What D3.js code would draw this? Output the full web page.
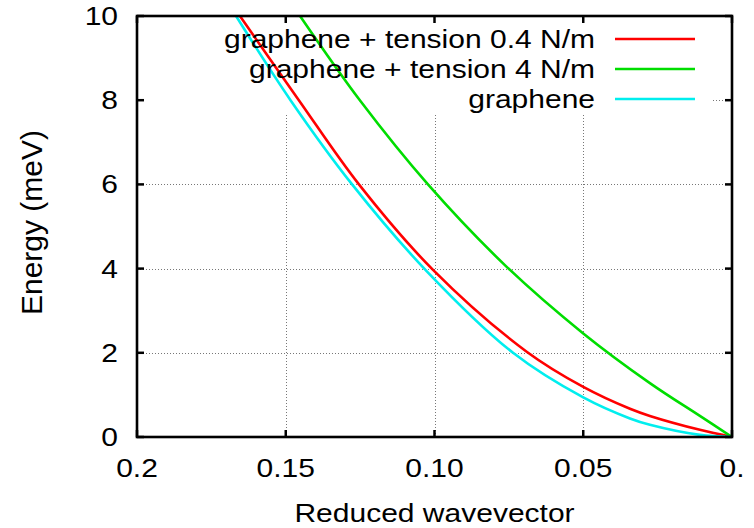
<!DOCTYPE html>
<html>
<head>
<meta charset="utf-8">
<script src="https://cdn.jsdelivr.net/npm/d3@7"></script>
<style>
  html, body { margin: 0; padding: 0; background: #fff; }
  svg { display: block; font-family: "Liberation Sans", Arial, sans-serif; }
</style>
</head>
<body>
<svg id="chart" width="754" height="528"></svg>
<script>
// Flexural phonon dispersion near Gamma: energy vs reduced wavevector
const xTicks = [0.2, 0.15, 0.10, 0.05, 0.0];
const xTickLabels = ["0.2", "0.15", "0.10", "0.05", "0."];
const yTicks = [0, 2, 4, 6, 8, 10];
const yTickLabels = ["0", "2", "4", "6", "8", "10"];

const seriesNames = ["graphene + tension 0.4 N/m", "graphene + tension 4 N/m", "graphene"];
const seriesColors = ["#ff0000", "#00dd00", "#00eeee"];

// graphene + tension 0.4 N/m
const qTension04 = [0, 0.0108, 0.0276, 0.0343, 0.05, 0.0689, 0.1005, 0.1254, 0.1456, 0.1654];
const eTension04 = [0, 0.17, 0.5, 0.67, 1.19, 2.02, 3.97, 6.0, 8.0, 10.0];
// graphene + tension 4 N/m
const qTension4 = [0, 0.0108, 0.0276, 0.05, 0.076, 0.1022, 0.1249, 0.1452];
const eTension4 = [0, 0.5, 1.28, 2.46, 4.06, 6.0, 7.98, 10.0];
// bare graphene
const qGraphene = [0, 0.0108, 0.0276, 0.0343, 0.05, 0.0736, 0.1025, 0.1277, 0.1484, 0.1667];
const eGraphene = [0, 0.05, 0.29, 0.44, 0.94, 2.0, 3.93, 6.0, 8.0, 10.0];

const seriesQ = [qTension04, qTension4, qGraphene];
const seriesE = [eTension04, eTension4, eGraphene];

const svg = d3.select("#chart");
const pLeft = 137, pRight = 732, pTop = 16, pBottom = 437;

const x = d3.scaleLinear().domain([0.2, 0.0]).range([pLeft, pRight]);
const y = d3.scaleLinear().domain([0, 10]).range([pBottom, pTop]);

// grid
const grid = svg.append("g").attr("stroke", "#777").attr("stroke-width", 1)
  .attr("stroke-dasharray", "1,2");
grid.selectAll("line.gx").data(xTicks.slice(1, -1)).join("line")
  .attr("x1", d => Math.round(x(d)) + 0.5).attr("x2", d => Math.round(x(d)) + 0.5)
  .attr("y1", pTop).attr("y2", pBottom);
grid.selectAll("line.gy").data(yTicks.slice(1, -1)).join("line")
  .attr("y1", d => Math.round(y(d)) + 0.5).attr("y2", d => Math.round(y(d)) + 0.5)
  .attr("x1", pLeft).attr("x2", pRight);

// opaque key background
svg.append("rect").attr("x", pLeft).attr("y", pTop)
  .attr("width", 712 - pLeft).attr("height", 115 - pTop).attr("fill", "#fff");

// curves
svg.append("clipPath").attr("id", "plotclip")
  .append("rect").attr("x", pLeft).attr("y", pTop)
  .attr("width", pRight - pLeft).attr("height", pBottom - pTop);

const line = d3.line().x(d => x(d[0])).y(d => y(d[1])).curve(d3.curveCatmullRom.alpha(0.5));
const curves = svg.append("g").attr("clip-path", "url(#plotclip)");
seriesQ.forEach((qs, i) => {
  const pts = qs.map((q, j) => [q, seriesE[i][j]]);
  curves.append("path").datum(pts)
    .attr("d", line).attr("fill", "none")
    .attr("stroke", seriesColors[i]).attr("stroke-width", 2.6);
});

// frame and ticks (mirrored on all sides, pointing inward)
const frame = svg.append("g");
const tickLen = 7;
frame.selectAll("line.tb").data(xTicks).join("line")
  .attr("x1", d => x(d)).attr("x2", d => x(d))
  .attr("y1", pBottom).attr("y2", pBottom - tickLen)
  .attr("stroke", "#000").attr("stroke-width", 2.5);
frame.selectAll("line.tt").data(xTicks).join("line")
  .attr("x1", d => x(d)).attr("x2", d => x(d))
  .attr("y1", pTop).attr("y2", pTop + tickLen)
  .attr("stroke", "#000").attr("stroke-width", 2.5);
frame.selectAll("line.tl").data(yTicks).join("line")
  .attr("x1", pLeft).attr("x2", pLeft + tickLen)
  .attr("y1", d => y(d)).attr("y2", d => y(d))
  .attr("stroke", "#000").attr("stroke-width", 2.5);
frame.selectAll("line.tr").data(yTicks).join("line")
  .attr("x1", pRight).attr("x2", pRight - tickLen)
  .attr("y1", d => y(d)).attr("y2", d => y(d))
  .attr("stroke", "#000").attr("stroke-width", 2.5);
frame.append("rect").attr("x", pLeft).attr("y", pTop)
  .attr("width", pRight - pLeft).attr("height", pBottom - pTop)
  .attr("fill", "none").attr("stroke", "#000").attr("stroke-width", 2.6);

// text helper: glyphs are drawn slightly widened
const fs = 25, sx = 1.2;
function hText(g, tx, ty, str, anchor) {
  return g.append("text")
    .attr("transform", `translate(${tx},${ty}) scale(${sx},1)`)
    .attr("text-anchor", anchor)
    .attr("font-size", fs).attr("fill", "#000").text(str);
}

const labels = svg.append("g");
xTicks.forEach((t, i) => hText(labels, x(t), 477, xTickLabels[i], "middle"));
yTicks.forEach((t, i) => hText(labels, 118, y(t) + 9, yTickLabels[i], "end"));

hText(labels, (pLeft + pRight) / 2, 522, "Reduced wavevector", "middle");
labels.append("text")
  .attr("transform", `translate(42,${(pTop + pBottom) / 2 - 4}) rotate(-90)`)
  .attr("text-anchor", "middle").attr("font-size", 30).attr("fill", "#000")
  .text("Energy (meV)");

// key
const keyRows = [39, 69, 99];
seriesNames.forEach((name, i) => {
  hText(labels, 595, keyRows[i] + 9, name, "end");
  svg.append("line").attr("x1", 615).attr("x2", 695)
    .attr("y1", keyRows[i]).attr("y2", keyRows[i])
    .attr("stroke", seriesColors[i]).attr("stroke-width", 2.6);
});
</script>
</body>
</html>
